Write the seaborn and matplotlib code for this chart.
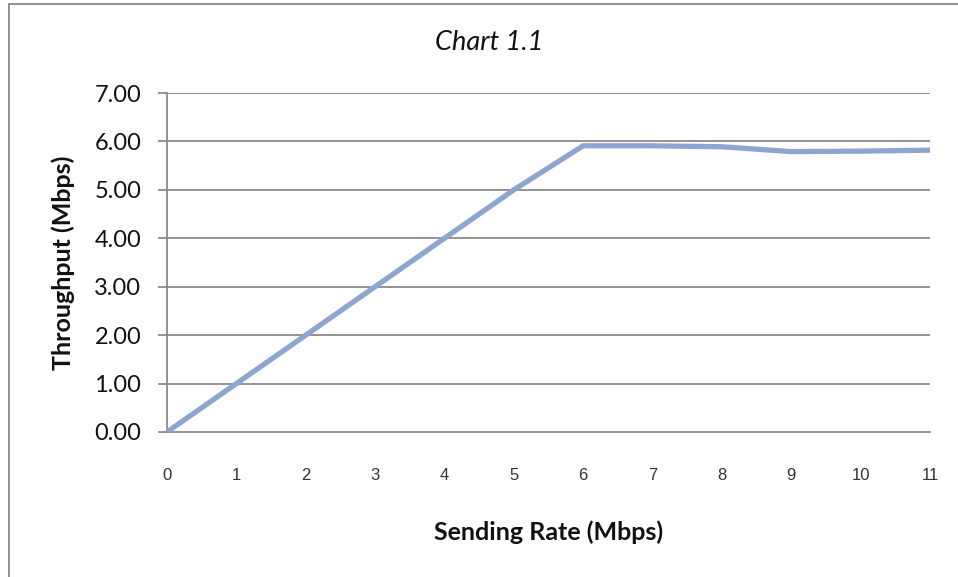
import matplotlib
matplotlib.use("Agg")
import matplotlib.pyplot as plt
from matplotlib.patches import Rectangle
import seaborn as sns
import pandas as pd

# Measured throughput for each sending rate
sending_rate = [0, 1, 2, 3, 4, 5, 6, 7, 8, 9, 10, 11]
throughput = [0.00, 1.00, 2.00, 3.00, 4.00, 5.00, 5.91, 5.91, 5.89, 5.79, 5.80, 5.82]
y_ticks = [0, 1, 2, 3, 4, 5, 6, 7]

df = pd.DataFrame({"rate": sending_rate, "throughput": throughput})

sns.set_theme(style="white")
plt.rcParams["font.family"] = ["Lato", "DejaVu Sans"]

fig = plt.figure(figsize=(9.58, 5.77), dpi=100)
ax = fig.add_axes([167 / 958, 1 - 432 / 577, (930 - 167) / 958, (432 - 93) / 577])

grid_col = "#8a8a8a"
for v in y_ticks[1:]:
    ax.axhline(v, color=grid_col, lw=1.3, zorder=1)

sns.lineplot(data=df, x="rate", y="throughput", ax=ax, color="#8DA6D0",
             lw=3.8, solid_capstyle="round", solid_joinstyle="round", zorder=3)

ax.set_xlim(0, 11)
ax.set_ylim(0, 7)
ax.set_yticks(y_ticks)
ax.set_yticklabels([f"{v:.2f}" for v in y_ticks], fontsize=17, color="#111111")
ax.set_xticks(sending_rate)
ax.set_xticklabels([str(v) for v in sending_rate], fontsize=12, color="#333333",
                   family=["Liberation Sans", "DejaVu Sans"])

for side in ["top", "right"]:
    ax.spines[side].set_visible(False)
for side in ["left", "bottom"]:
    ax.spines[side].set_color(grid_col)
    ax.spines[side].set_linewidth(1.3)

ax.tick_params(axis="y", which="both", left=True, length=6.5, width=1.3,
               color=grid_col, pad=12)
ax.tick_params(axis="x", which="both", bottom=False, length=0, pad=26)

ax.set_xlabel("Sending Rate (Mbps)", fontsize=18, fontweight="bold",
              labelpad=27, color="#111111")
ax.set_ylabel("Throughput (Mbps)", fontsize=18, fontweight="bold",
              labelpad=14, color="#111111")

fig.text(489 / 958, 1 - 43 / 577, "Chart 1.1", ha="center", va="center",
         fontsize=19.5, fontstyle="italic", color="#111111")

# Chart area border
fig.patches.append(Rectangle((9 / 958, -0.1), 1.2, 1.1 - 4 / 577,
                             transform=fig.transFigure, fill=False,
                             edgecolor="#888888", lw=1.3))

fig.savefig("out.png", dpi=100, facecolor="white")
